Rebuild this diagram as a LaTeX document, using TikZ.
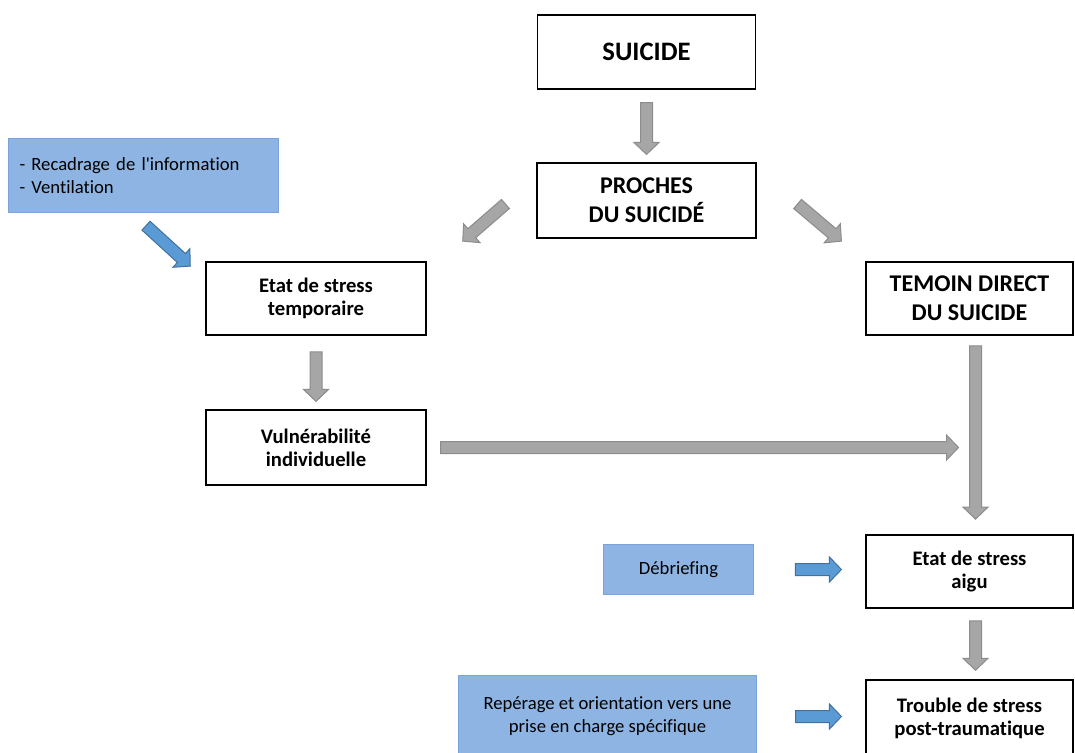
\documentclass[tikz,border=0pt]{standalone}
\usepackage{fontspec}
\setmainfont{Carlito}[Ligatures={TeXOff,NoCommon}]
\usetikzlibrary{calc}
\usetikzlibrary{positioning}
\definecolor{boxblue}{HTML}{8EB4E3}
\definecolor{boxblueline}{HTML}{7BA3D9}
\definecolor{arrblue}{HTML}{5B9BD5}
\definecolor{arrblueline}{HTML}{41719C}
\definecolor{arrgray}{HTML}{A6A6A6}
\definecolor{arrgrayline}{HTML}{8C8C8C}

\begin{document}
\begin{tikzpicture}[
    x=0.75pt, y=-0.75pt,
    font=\fontsize{14}{17.3}\selectfont
]
\tikzset{
    mybox/.style = {draw=black, line width=1.1pt, align=center, inner sep=0pt,
        font=\bfseries\fontsize{15.5}{17.3}\selectfont, minimum width=165pt, minimum height=55pt},
    mybigbox/.style = {mybox, font=\bfseries\fontsize{18}{21.75}\selectfont},
    myblue/.style = {draw=boxblueline, line width=0.8pt, fill=boxblue, align=center, inner sep=0pt},
    blockarrow/.style = {line width=0.75pt, to path={
        let \p1=(\tikztostart), \p2=(\tikztotarget),
            \n1={atan2(\y2-\y1,\x2-\x1)}, \n2={veclen(\x2-\x1,\y2-\y1)-9pt} in
        ($(\p1)+(\n1+90:4.5pt)$) -- ($(\p1)+(\n1:\n2)+(\n1+90:4.5pt)$)
        -- ($(\p1)+(\n1:\n2)+(\n1+90:9.4pt)$) -- (\p2)
        -- ($(\p1)+(\n1:\n2)+(\n1-90:9.4pt)$) -- ($(\p1)+(\n1:\n2)+(\n1-90:4.5pt)$)
        -- ($(\p1)+(\n1-90:4.5pt)$) -- cycle}},
    edgeg/.style = {blockarrow, draw=arrgrayline, fill=arrgray},
    edgeb/.style = {blockarrow, draw=arrblueline, fill=arrblue}
}
\useasboundingbox (0,0) rectangle (1075,753);
% boxes
\node[mybigbox, minimum width=163.5pt, minimum height=55.5pt, font=\bfseries\fontsize{20}{22}\selectfont] at (646.5,52) (suicide) {SUICIDE};
\node[mybigbox, minimum width=164pt, minimum height=56pt] at (646.5,200.5) (proches) {PROCHES\\DU SUICIDÉ};
\node[myblue, minimum width=202pt, minimum height=55pt, text width=186pt, align=left] at (143.5,175.5) (info) {- Recadrage de l'information\\- Ventilation};
\node[mybox] at (316,298.5) (etat) {Etat de stress\\temporaire};
\node[mybigbox, minimum width=155pt] at (969.5,298.5) (temoin) {TEMOIN DIRECT\\DU SUICIDE};
\node[mybox, minimum height=56pt] at (316,447.5) (vuln) {Vulnérabilité\\individuelle};
\node[myblue, minimum width=113pt, minimum height=37pt] at (678.5,569.5) (debrief) {Débriefing};
\node[mybox, minimum width=155pt] at (969.5,571.5) (aigu) {Etat de stress\\aigu};
\node[myblue, minimum width=223pt, minimum height=61pt] at (607.5,716.5) (reperage) {Repérage et orientation vers une\\prise en charge spécifique};
\node[mybox, minimum width=155pt, minimum height=57pt] at (969.5,718) (trouble) {Trouble de stress\\post-traumatique};
% arrows
\draw[edgeg] ($(suicide.south)+(0,13)$) to ($(proches.north)+(0,-8)$);
\draw[edgeg] ($(proches.west)+(-31,3.5)$) to ($(etat.north east)+(36,-20)$);
\draw[edgeg] ($(proches.east)+(41,3.5)$) to ($(temoin.north west)+(-24,-20)$);
\draw[edgeb] ($(info.south)+(2.5,13)$) to ($(etat.north west)+(-15,5)$);
\draw[edgeg] ($(etat.south)+(0,16)$) to ($(vuln.north)+(0,-8)$);
\draw[edgeg] ($(temoin.south)+(6,10)$) to ($(aigu.north)+(6,-15)$);
\coordinate (join) at ($(vuln.east -| temoin.south)+(-11,0)$);
\draw[edgeg] ($(vuln.east)+(14,0)$) to (join);
\draw[edgeb] ($(debrief.east)+(41,0)$) to ($(debrief.east -| aigu.west)+(-24,0)$);
\draw[edgeg] ($(aigu.south)+(6,12)$) to ($(trouble.north)+(6,-9)$);
\draw[edgeb] ($(reperage.east)+(39,0)$) to ($(reperage.east -| trouble.west)+(-24,0)$);
\end{tikzpicture}
\end{document}
